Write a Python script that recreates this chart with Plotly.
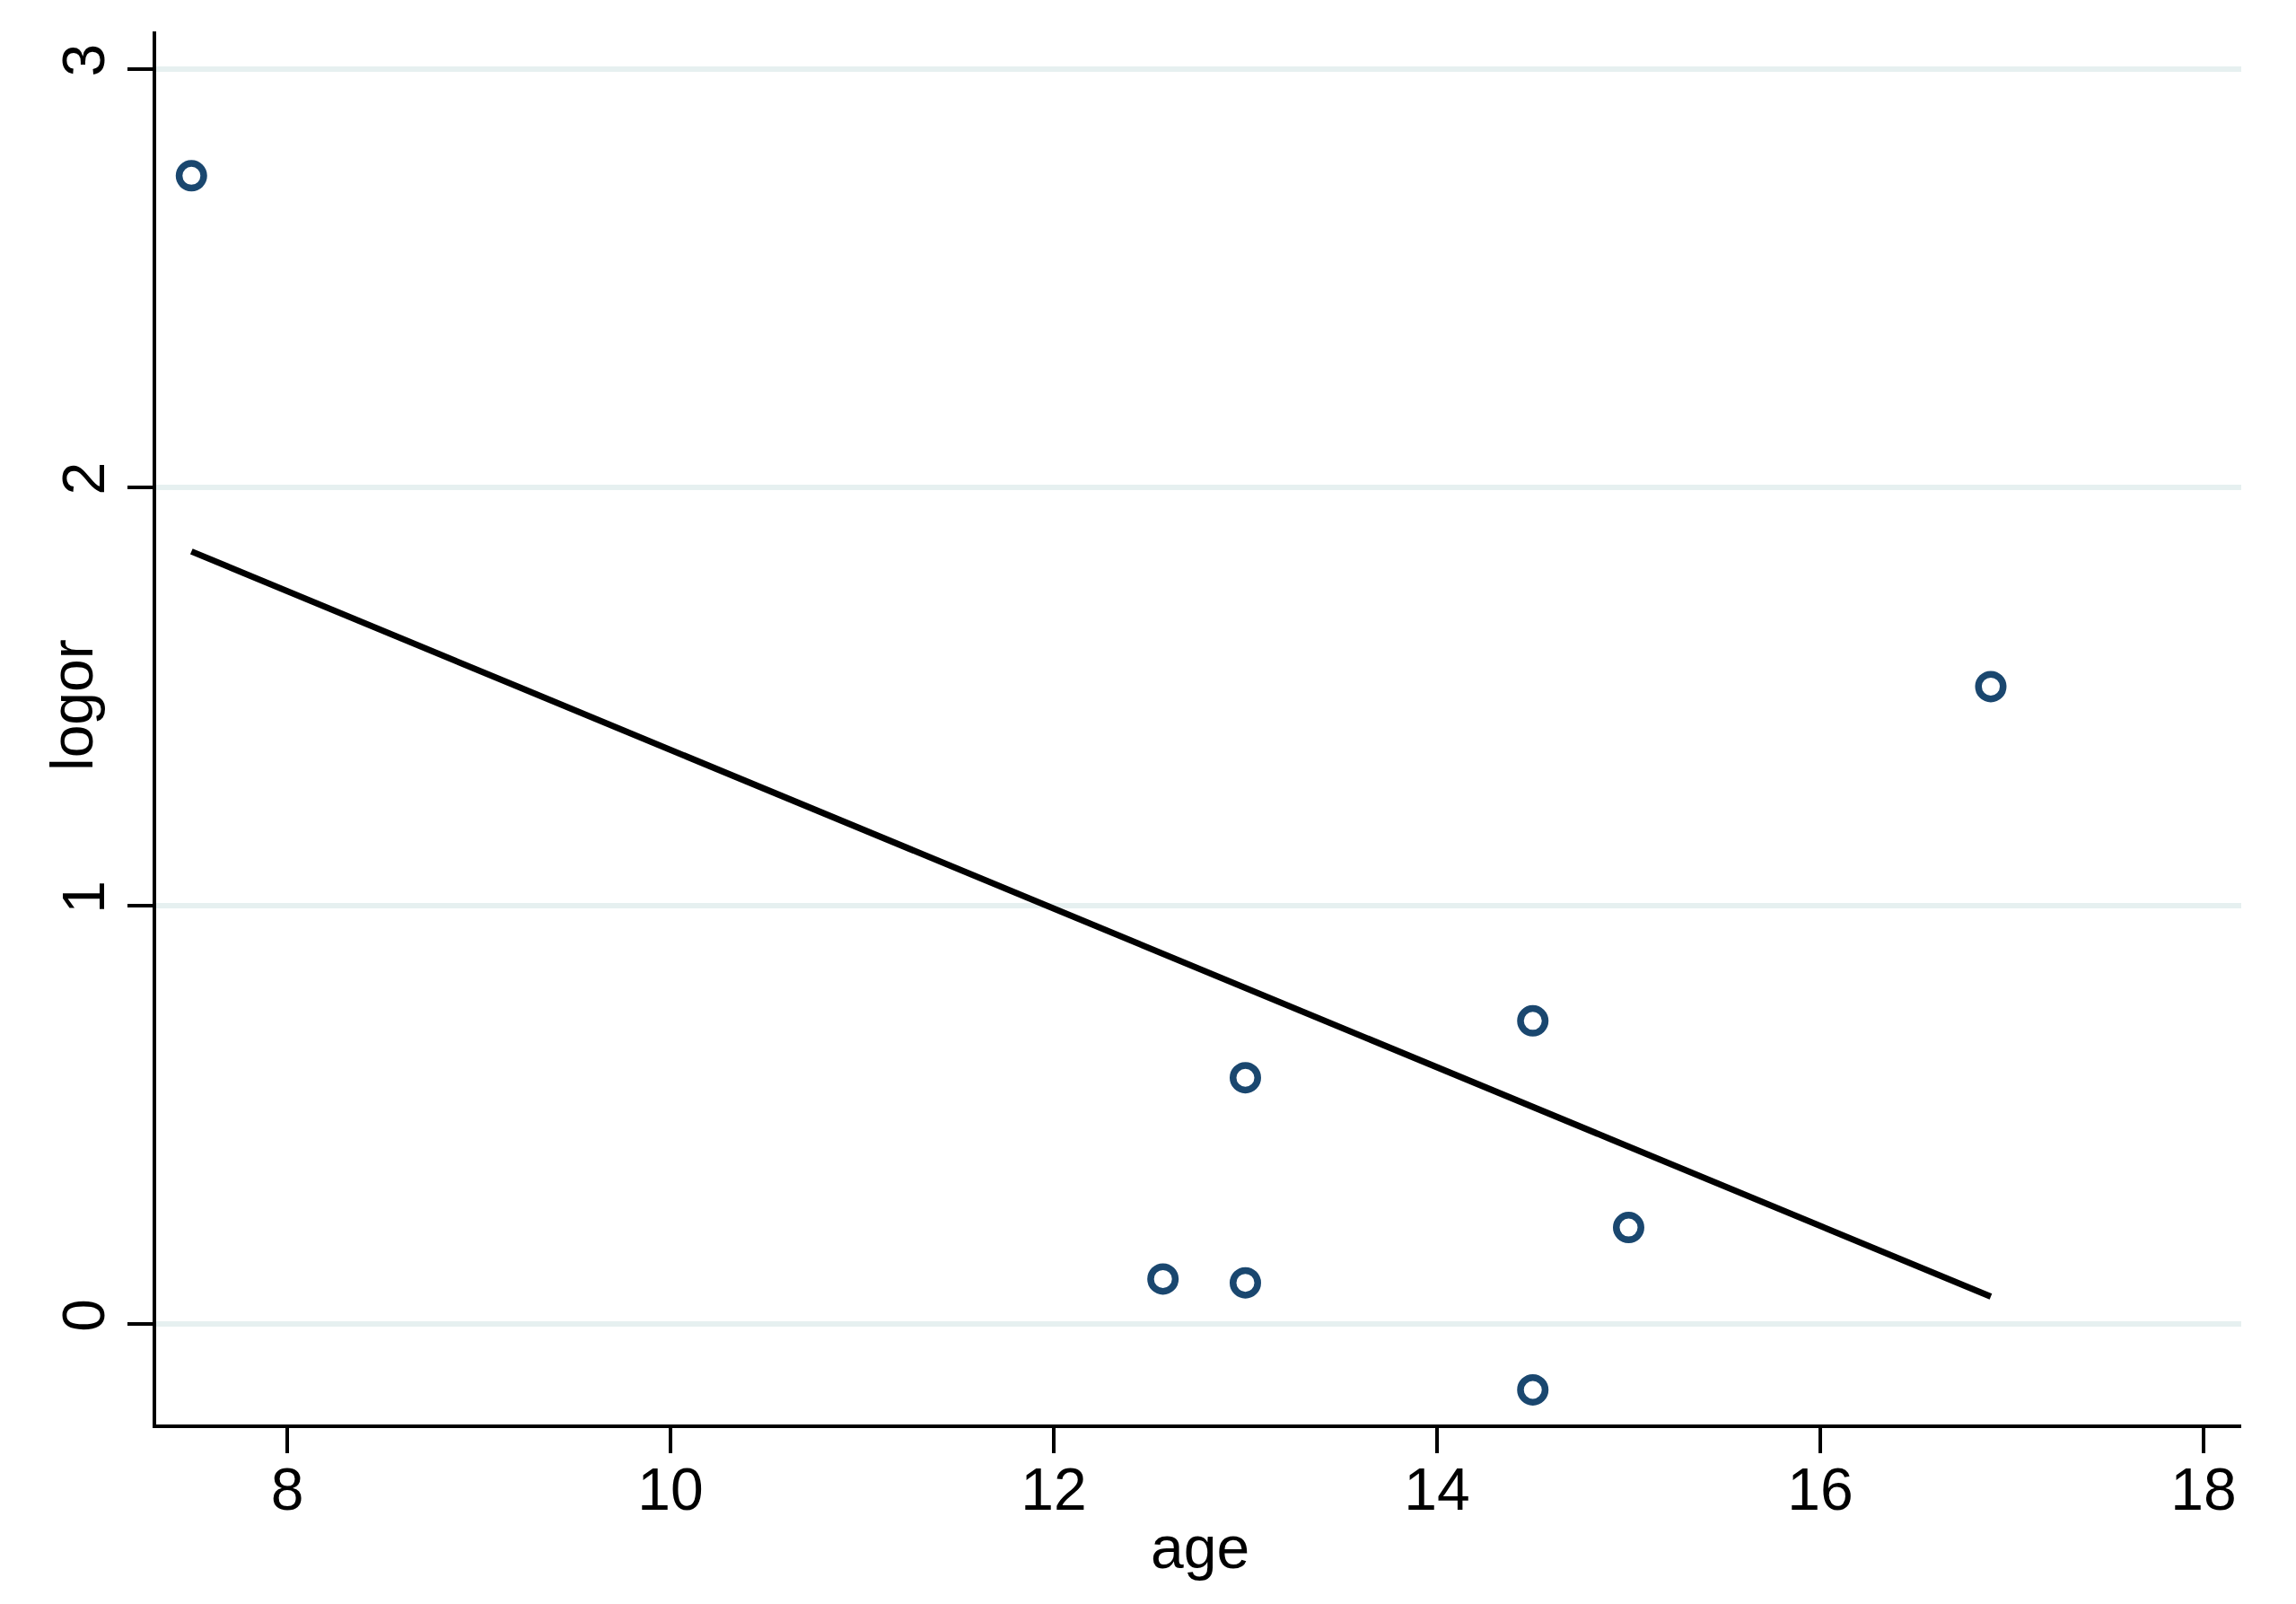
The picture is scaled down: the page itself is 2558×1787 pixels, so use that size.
import plotly.graph_objects as go

# Data
age = [7.5, 12.57, 13.0, 13.0, 14.5, 14.5, 15.0, 16.89]
logor = [2.745, 0.108, 0.099, 0.589, 0.725, -0.157, 0.231, 1.524]

# Fitted values (linear fit) endpoints
fit_age = [7.5, 16.89]
fit_logor = [1.847, 0.066]

x_ticks = [8, 10, 12, 14, 16, 18]
y_ticks = [0, 1, 2, 3]

OFF = 8  # default body margin of the html page
W, H = 2558 - 2 * OFF, 1787 - 2 * OFF
L, T = 174 - OFF, 35 - OFF
R = W - (2497 - OFF)
B = H - (1587 - OFF)
PW, PH = W - L - R, H - T - B
FONT = "Liberation Sans, Arial, sans-serif"
FS = 66


def px_x(px):
    return (px - OFF - L) / PW


def px_y(py):
    return (H - B - (py - OFF)) / PH


fig = go.Figure()
fig.add_trace(go.Scatter(
    x=age, y=logor, mode="markers",
    marker=dict(symbol="circle", size=27.5, color="white",
                line=dict(width=7.5, color="#1a476f")),
    showlegend=False, hoverinfo="skip"))
fig.add_trace(go.Scatter(
    x=fit_age, y=fit_logor, mode="lines",
    line=dict(color="black", width=7),
    showlegend=False, hoverinfo="skip"))

fig.update_layout(
    width=W, height=H,
    margin=dict(l=L, r=R, t=T, b=B, pad=0),
    paper_bgcolor="white", plot_bgcolor="white",
    font=dict(family=FONT, size=FS, color="black"),
    xaxis=dict(range=[7.316, 18.197], tickvals=x_ticks,
               ticktext=[str(v) for v in x_ticks],
               showgrid=False, zeroline=False,
               showline=True, linecolor="black", linewidth=4,
               ticks="outside", ticklen=28, tickwidth=3.5, tickcolor="black",
               ticklabelstandoff=-16,
               tickfont=dict(family=FONT, size=FS, color="black")),
    yaxis=dict(range=[-0.2397, 3.09], tickvals=y_ticks,
               ticktext=[str(v) for v in y_ticks],
               showgrid=True, gridcolor="#E6F0F0", gridwidth=6,
               zeroline=False,
               showline=True, linecolor="black", linewidth=4,
               ticks="outside", ticklen=28, tickwidth=3.5, tickcolor="black",
               tickangle=-90,
               tickfont=dict(family=FONT, size=FS, color="black")),
    annotations=[
        dict(text="age", xref="paper", yref="paper",
             x=px_x(1337), y=px_y(1724),
             xanchor="center", yanchor="middle", showarrow=False,
             font=dict(family=FONT, size=FS, color="black")),
        dict(text="logor", xref="paper", yref="paper",
             x=px_x(80), y=px_y(786),
             xanchor="center", yanchor="middle", showarrow=False,
             textangle=-90,
             font=dict(family=FONT, size=FS, color="black")),
    ],
)

fig.write_html("out.html")
